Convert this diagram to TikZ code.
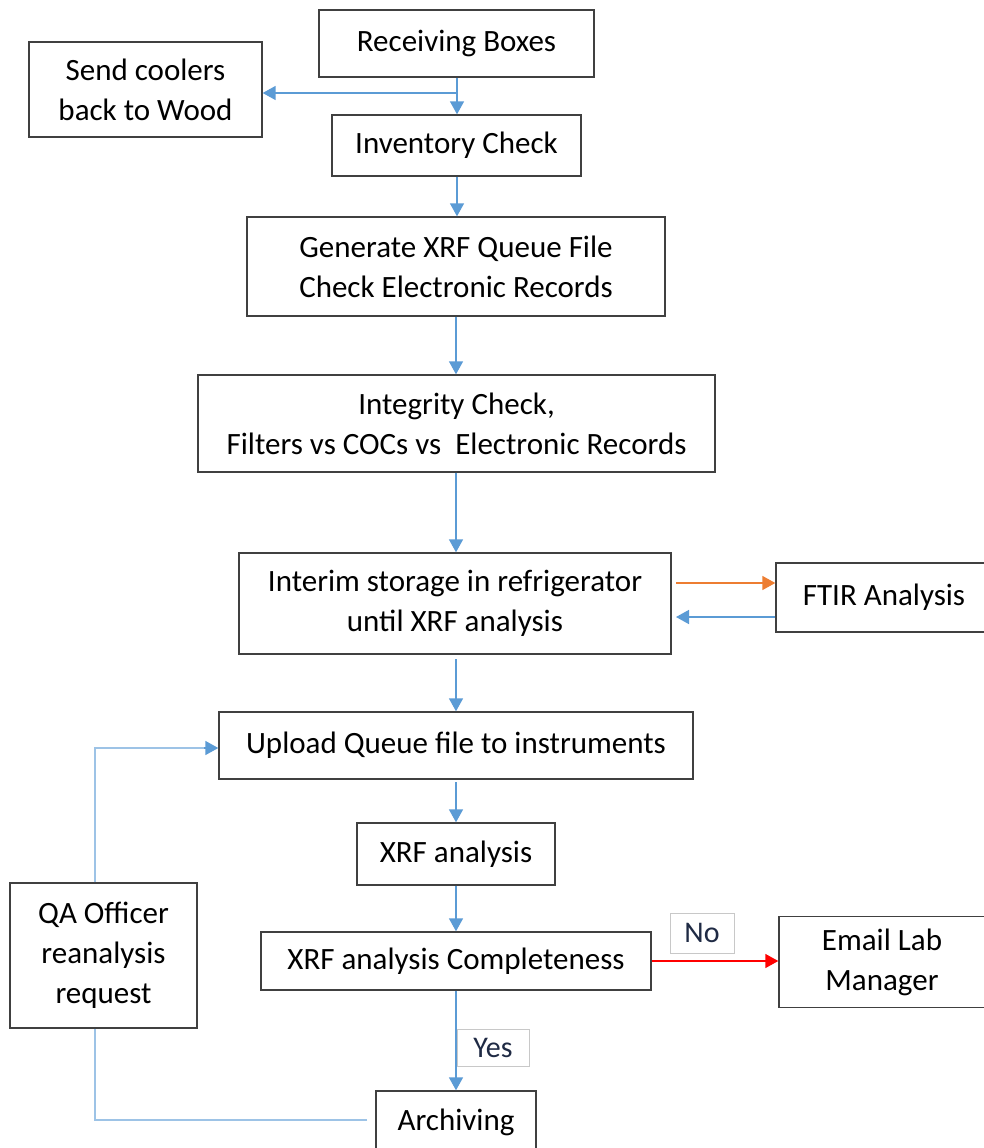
\documentclass[tikz,border=0pt]{standalone}
\usepackage{fontspec}
\setmainfont{Carlito}
\usetikzlibrary{arrows.meta}
\definecolor{boxline}{HTML}{404040}
\definecolor{arrblue}{HTML}{5B9BD5}
\definecolor{lightblue}{HTML}{9DC3E6}
\definecolor{arrorange}{HTML}{ED7D31}
\definecolor{arrred}{HTML}{FF0000}
\definecolor{lblline}{HTML}{C8C8C8}
\definecolor{lbltext}{HTML}{1F2A44}
\tikzset{
  box/.style={draw=boxline, line width=1.4pt, inner sep=0pt, align=center,
    font=\fontsize{31}{40}\selectfont},
  lbl/.style={draw=lblline, line width=0.8pt, fill=white, inner sep=0pt, text=lbltext,
    font=\fontsize{30}{36}\selectfont},
  flow/.style={draw=arrblue, line width=1.5pt, -{Triangle[length=13pt,width=14pt]}},
  loopline/.style={draw=lightblue, line width=1.6pt},
}
\begin{document}
\begin{tikzpicture}[x=1pt,y=-1pt]
\useasboundingbox (0,0) rectangle (984,1148);
\clip (0,0) rectangle (984,1148);
\fill[white] (0,0) rectangle (984,1148);

\node[box, minimum width=275pt, minimum height=67pt] (recv) at (456.5,43.5) {Receiving Boxes};
\node[box, minimum width=233pt, minimum height=95pt] (send) at (145.5,89.5) {Send coolers\\back to Wood};
\node[box, minimum width=249pt, minimum height=61pt] (inv) at (456.5,145.5) {Inventory Check};
\node[box, minimum width=418pt, minimum height=99pt] (gen) at (456,266.5) {Generate XRF Queue File\\Check Electronic Records};
\node[box, minimum width=517pt, minimum height=97pt] (integ) at (456.5,423.5) {Integrity Check,\\Filters vs COCs vs\ \ Electronic Records};
\node[box, minimum width=432pt, minimum height=101pt] (interim) at (455,603.5) {Interim storage in refrigerator\\until XRF analysis};
\node[box, minimum width=216pt, minimum height=69pt] (ftir) at (884,597.5) {FTIR Analysis};
\node[box, minimum width=474pt, minimum height=67pt] (upload) at (456,745.5) {Upload Queue file to instruments};
\node[box, minimum width=198pt, minimum height=62pt] (xrf) at (456,854) {XRF analysis};
\node[box, minimum width=390pt, minimum height=58pt] (compl) at (456,961) {XRF analysis Completeness};
\node[box, minimum width=206pt, minimum height=91pt] (email) at (882,962) {Email Lab\\Manager};
\node[box, minimum width=187pt, minimum height=145pt] (qa) at (103.5,955.5) {QA Officer\\reanalysis\\request};
\node[box, minimum width=160pt, minimum height=70pt] (arch) at (456,1126) {};
\node[font=\fontsize{31}{40}\selectfont, anchor=base] (archtxt) at (456,1130) {Archiving};

% main flow
\coordinate (split) at (457,93);
\draw[flow] (recv.south -| split) -- (inv.north -| split);
\draw[flow] (split) -- (send.east |- split);
\draw[flow] (inv.south -| 457,0) -- (gen.north -| 457,0);
\coordinate (gx) at (456,0);
\draw[flow] (gen.south -| gx) -- (integ.north -| gx);
\draw[flow] (integ.south -| gx) -- (interim.north -| gx);
\coordinate (iout) at (456,659);
\draw[flow] (iout) -- (upload.north -| iout);
\coordinate (uout) at (456,782);
\draw[flow] (uout) -- (xrf.north -| uout);
\draw[flow] (xrf.south -| gx) -- (compl.north -| gx);
\draw[flow] (compl.south -| gx) -- (arch.north -| gx);

% FTIR
\coordinate (fo) at (676,583);
\coordinate (fb) at (676,617);
\draw[draw=arrorange, line width=1.5pt, -{Triangle[length=13pt,width=14pt,fill=arrorange]}] (fo) -- (ftir.west |- fo);
\draw[flow] (ftir.west |- fb) -- (fb);

% No branch
\draw[draw=arrred, line width=1.5pt, -{Triangle[length=13pt,width=14pt,fill=arrred]}] (compl.east) -- (email.west |- compl.east);

% QA loop
\coordinate (qx) at (95,0);
\coordinate (archin) at (367,1120);
\draw[loopline] (archin) -- (qx |- archin) -- (qa.south -| qx);
\coordinate (upin) at (95,748);
\draw[loopline] (qa.north -| qx) -- (upin) -- (205,748);
\draw[draw=arrblue, line width=1.5pt, -{Triangle[length=13pt,width=14pt]}] (204,748) -- (upload.west |- upin);

% labels
\node[lbl, minimum width=64pt, minimum height=40pt] (no) at (702,933) {No};
\node[lbl, minimum width=72pt, minimum height=37pt] (yes) at (493,1047.5) {Yes};
\end{tikzpicture}
\end{document}
